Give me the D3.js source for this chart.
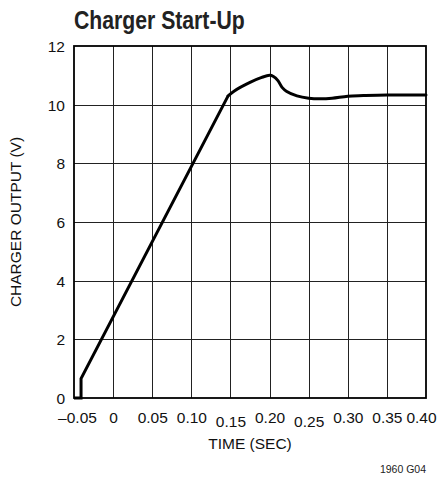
<!DOCTYPE html>
<html><head><meta charset="utf-8">
<script src="https://cdn.jsdelivr.net/npm/d3@7"></script>
<style>
html,body{margin:0;padding:0;background:#fff;}
svg{display:block;}
.lbl{font-family:"Liberation Sans",Arial,sans-serif;font-size:15.5px;fill:#111;}
</style></head><body>
<svg id="c" width="442" height="482"></svg>
<script>
// ---- data ----
const xTicks = [-0.05, 0, 0.05, 0.10, 0.15, 0.20, 0.25, 0.30, 0.35, 0.40];
const xTickLabels = ["–0.05", "0", "0.05", "0.10", "0.15", "0.20", "0.25", "0.30", "0.35", "0.40"];
const yTicks = [0, 2, 4, 6, 8, 10, 12];
const yTickLabels = ["0", "2", "4", "6", "8", "10", "12"];
// linear ramp section (time in s, output in V)
const rampT = [-0.05, -0.041, -0.041, 0.147];
const rampV = [0, 0, 0.66, 10.30];
// smooth overshoot / settling section
const settleT = [0.147, 0.155, 0.175, 0.190, 0.200, 0.205, 0.211, 0.216, 0.222, 0.235, 0.250, 0.265, 0.280, 0.300, 0.320, 0.350, 0.400];
const settleV = [10.30, 10.47, 10.76, 10.93, 11.00, 10.96, 10.81, 10.59, 10.45, 10.30, 10.22, 10.20, 10.22, 10.29, 10.31, 10.33, 10.33];

const title = "Charger Start-Up";
const xTitle = "TIME (SEC)";
const yTitle = "CHARGER OUTPUT (V)";
const note = "1960 G04";

// ---- layout ----
const W = 442, H = 482;
const m = {left: 74, right: 16, top: 46, bottom: 84};
const pw = W - m.left - m.right, ph = H - m.top - m.bottom;

const svg = d3.select("#c");
const x = d3.scaleLinear().domain([-0.05, 0.40]).range([m.left, m.left + pw]);
const y = d3.scaleLinear().domain([0, 12]).range([m.top + ph, m.top]);

// grid
const g = svg.append("g");
g.selectAll("line.vx").data(xTicks.slice(1, -1)).join("line")
  .attr("x1", d => Math.round(x(d)) + 0.5).attr("x2", d => Math.round(x(d)) + 0.5)
  .attr("y1", y(0)).attr("y2", y(12))
  .attr("stroke", "#222").attr("stroke-width", 1);
g.selectAll("line.hy").data(yTicks.slice(1, -1)).join("line")
  .attr("y1", d => Math.round(y(d)) + 0.5).attr("y2", d => Math.round(y(d)) + 0.5)
  .attr("x1", x(-0.05)).attr("x2", x(0.40))
  .attr("stroke", "#222").attr("stroke-width", 1);
// frame
svg.append("rect").attr("x", x(-0.05)).attr("y", y(12))
  .attr("width", x(0.40) - x(-0.05)).attr("height", y(0) - y(12))
  .attr("fill", "none").attr("stroke", "#000").attr("stroke-width", 1.8);

// axes (labels only)
const xAxis = d3.axisBottom(x).tickValues(xTicks).tickSize(0).tickPadding(0)
  .tickFormat((d, i) => xTickLabels[i]);
const xa = svg.append("g").attr("transform", `translate(0,${y(0)})`).call(xAxis);
xa.select(".domain").remove();
xa.attr("font-size", null).attr("font-family", null);
xa.selectAll("text").attr("class", "lbl").attr("fill", null)
  .attr("dy", null).attr("y", (d, i) => (i === 4 || i === 6) ? 28.5 : 25)
  .attr("dx", (d, i) => i === 0 ? 3 : (i === xTicks.length - 1 ? -5 : 0));

const yAxis = d3.axisLeft(y).tickValues(yTicks).tickSize(0).tickPadding(9)
  .tickFormat((d, i) => yTickLabels[i]);
const ya = svg.append("g").attr("transform", `translate(${x(-0.05)},0)`).call(yAxis);
ya.select(".domain").remove();
ya.attr("font-size", null).attr("font-family", null);
ya.selectAll("text").attr("class", "lbl").attr("fill", null).attr("dy", "0.36em");

// curve
const ramp = rampT.map((t, i) => [t, rampV[i]]);
const settle = settleT.map((t, i) => [t, settleV[i]]);
const lineLin = d3.line().x(d => x(d[0])).y(d => y(d[1]));
const lineSmooth = d3.line().x(d => x(d[0])).y(d => y(d[1])).curve(d3.curveCatmullRom.alpha(0.5));
svg.append("path").attr("d", lineLin(ramp)).attr("fill", "none")
  .attr("stroke", "#000").attr("stroke-width", 3).attr("stroke-linejoin", "miter");
svg.append("path").attr("d", lineSmooth(settle)).attr("fill", "none")
  .attr("stroke", "#000").attr("stroke-width", 3).attr("stroke-linecap", "round");

// titles
svg.append("text").attr("transform", `translate(${m.left},29) scale(0.8,1)`)
  .attr("font-family", '"Liberation Sans",Arial,sans-serif')
  .attr("font-weight", "bold").attr("font-size", 26.5).attr("fill", "#222").text(title);
svg.append("text").attr("class", "lbl").attr("x", x(0.175)).attr("y", 449)
  .attr("text-anchor", "middle").text(xTitle);
svg.append("text").attr("class", "lbl")
  .attr("transform", `translate(21,${(y(0) + y(12)) / 2}) rotate(-90)`)
  .attr("text-anchor", "middle").text(yTitle);
svg.append("text").attr("x", 426).attr("y", 473).attr("text-anchor", "end")
  .attr("font-family", '"Liberation Sans",Arial,sans-serif').attr("font-size", 10.5)
  .attr("fill", "#222").text(note);
</script>
</body></html>
